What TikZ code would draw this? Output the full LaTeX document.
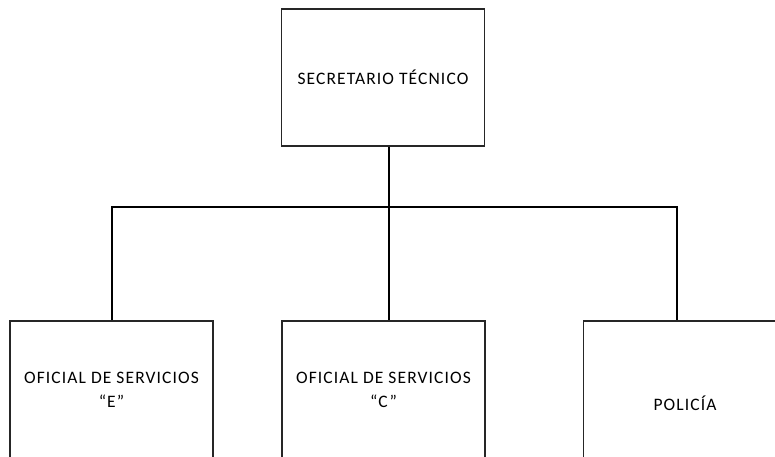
\documentclass[tikz,border=0pt]{standalone}
\usepackage{fontspec}
\setmainfont[LetterSpace=6.3]{Carlito}
\begin{document}
\begin{tikzpicture}[x=1pt,y=-1pt,
  box/.style={draw=black!85, line width=1.3pt, minimum width=203pt, align=center, inner sep=0pt, font=\fontsize{17.5}{24}\selectfont},
  conn/.style={draw=black, line width=2.8pt}]
\useasboundingbox (0,0) rectangle (775,456);
\node[box, minimum height=137pt] (top) at (383,77.5) {SECRETARIO TÉCNICO};
\node[box, minimum height=138pt] (e) at (111.5,390) {OFICIAL DE SERVICIOS\\“E”};
\node[box, minimum height=138pt] (c) at (383.5,390) {OFICIAL DE SERVICIOS\\“C”};
\node[box, minimum height=164pt] (p) at (685,403) {POLICÍA};
\coordinate (jc) at (389,207);
\coordinate (jl) at (112,207);
\coordinate (jr) at (677,207);
\draw[conn] (top.south -| jc) -- (jc);
\draw[conn] (jl |- e.north) -- (jl) -- (jr) -- (jr |- p.north);
\draw[conn] (jc) -- (jc |- c.north);
\end{tikzpicture}
\end{document}
